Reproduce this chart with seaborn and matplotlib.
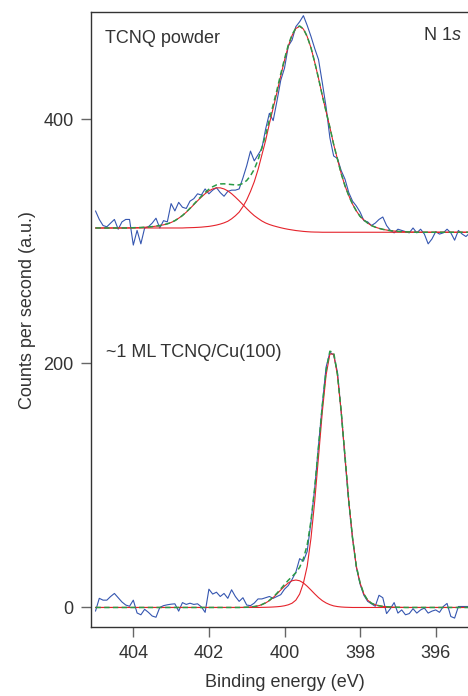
import numpy as np
import matplotlib
matplotlib.use("Agg")
import matplotlib.pyplot as plt
import seaborn as sns

# =====================================================
# DATA  (binding energy grid, 0.1 eV steps, 405.0 -> 395.1 eV)
# =====================================================
energy = np.round(np.linspace(405.0, 395.1, 100), 1)

# ---- TCNQ powder (upper spectrum) ----
powder_counts = [
    325, 318, 313, 312, 315, 318, 310, 316, 318, 318,
    297, 309, 298, 311, 312, 315, 319, 311, 317, 316,
    331, 325, 332, 328, 327, 333, 335, 339, 338, 343,
    339, 342, 344, 340, 337, 341, 342, 342, 343, 352,
    362, 374, 366, 371, 376, 392, 405, 399, 415, 432,
    442, 460, 465, 476, 480, 485, 477, 468, 458, 449,
    430, 410, 385, 370, 368, 358, 351, 340, 333, 329,
    324, 317, 316, 313, 315, 318, 320, 313, 309, 307,
    310, 309, 308, 307, 311, 307, 310, 306, 298, 302,
    308, 306, 307, 310, 307, 301, 309, 306, 304, 307,
]

powder_background = [
    311, 311, 311, 311, 311, 311, 311, 311, 311, 311,
    311, 311, 311, 311, 311, 311, 311, 311, 311, 311,
    311, 311, 311, 311, 311, 311, 311, 311, 311, 311,
    311, 311, 311, 311, 311, 311, 311, 311, 311, 311,
    311.0, 310.95, 310.9, 310.85, 310.75, 310.6, 310.45, 310.25, 310.0, 309.7,
    309.4, 309.1, 308.8, 308.5, 308.25, 308.0, 307.85, 307.75, 307.65, 307.6,
    307.5, 307.5, 307.5, 307.5, 307.5, 307.5, 307.5, 307.5, 307.5, 307.5,
    307.5, 307.5, 307.5, 307.5, 307.5, 307.5, 307.5, 307.5, 307.5, 307.5,
    307.5, 307.5, 307.5, 307.5, 307.5, 307.5, 307.5, 307.5, 307.5, 307.5,
    307.5, 307.5, 307.5, 307.5, 307.5, 307.5, 307.5, 307.5, 307.5, 307.5,
]

# main component (~399.6 eV), height above background
powder_main = [
    0, 0, 0, 0, 0, 0, 0, 0, 0, 0,
    0, 0, 0, 0, 0, 0, 0, 0, 0, 0,
    0, 0, 0, 0, 0.15, 0.25, 0.35, 0.5, 0.7, 1.0,
    1.3, 1.8, 2.4, 3.2, 4.2, 5.5, 7.5, 10, 13, 17.5,
    23, 30, 38, 48, 60, 72, 86, 99, 112, 126,
    139, 151, 160, 166, 168, 166, 160, 151, 139, 126,
    112, 99, 86, 72, 60, 48, 38, 30, 23, 17.5,
    13, 10, 7.5, 5.5, 4.2, 3.2, 2.4, 1.8, 1.3, 1.0,
    0.7, 0.5, 0.35, 0.25, 0.15, 0, 0, 0, 0, 0,
    0, 0, 0, 0, 0, 0, 0, 0, 0, 0,
]

# satellite component (~401.75 eV), height above background
powder_side = [
    0, 0, 0, 0, 0, 0, 0, 0, 0, 0.1,
    0.2, 0.3, 0.4, 0.6, 0.8, 1.1, 1.5, 2.0, 2.6, 3.4,
    4.5, 6.0, 8.0, 10.2, 12.9, 15.9, 19.1, 22.3, 25.3, 28.1,
    30.4, 32.0, 32.9, 32.9, 32.0, 30.4, 28.1, 25.3, 22.3, 19.1,
    15.9, 12.9, 10.2, 8.0, 6.0, 4.5, 3.4, 2.6, 2.0, 1.5,
    1.1, 0.8, 0.6, 0.4, 0.3, 0.2, 0.1, 0, 0, 0,
    0, 0, 0, 0, 0, 0, 0, 0, 0, 0,
    0, 0, 0, 0, 0, 0, 0, 0, 0, 0,
    0, 0, 0, 0, 0, 0, 0, 0, 0, 0,
    0, 0, 0, 0, 0, 0, 0, 0, 0, 0,
]

# ---- ~1 ML TCNQ/Cu(100) (lower spectrum) ----
monolayer_counts = [
    -3, 7.5, 6, 6, 9, 11.5, 8, 4.5, 2, 1,
    6, -4.5, -6, -1.5, -4, -7, -8, 0, 1.5, 2.2,
    2.7, 3, -3, 4, 2.5, 3.5, 2.5, 3, 0.5, -4,
    15, 11, 12.5, 9, 11.5, 7.5, 14.5, 9, 5, 8,
    2, 1.5, 3.6, 7, 7, 8, 9, 7.5, 9, 10.5,
    15, 18, 23, 29, 40, 38, 46, 70, 98, 133,
    166, 197, 209, 207, 193, 160, 122, 86, 57, 33,
    19, 10, 5, 3, 1, 10, 8, -5, -1, 4,
    -4.6, -2, -6, -5, -1, -4.6, -2, -0.5, -4.6, -3,
    -2, -4, 0.8, 3.3, -7.4, -8.7, 0.8, 0.8, 0.8, 0.8,
]

monolayer_background = 0.0

# main component (~398.75 eV)
monolayer_main = [
    0, 0, 0, 0, 0, 0, 0, 0, 0, 0,
    0, 0, 0, 0, 0, 0, 0, 0, 0, 0,
    0, 0, 0, 0, 0, 0, 0, 0, 0, 0,
    0, 0, 0, 0, 0, 0, 0, 0, 0, 0,
    0, 0, 0, 0, 0.1, 0.15, 0.25, 0.4, 0.6, 0.9,
    1.4, 2.2, 3.5, 6, 11, 20, 33.8, 56.7, 87.4, 123.7,
    160.2, 190.5, 207.7, 207.7, 190.5, 160.2, 123.7, 87.4, 56.7, 33.8,
    20, 11, 6, 3.5, 2.2, 1.4, 0.9, 0.6, 0.4, 0.25,
    0.15, 0.1, 0, 0, 0, 0, 0, 0, 0, 0,
    0, 0, 0, 0, 0, 0, 0, 0, 0, 0,
]

# shoulder component (~399.7 eV)
monolayer_side = [
    0, 0, 0, 0, 0, 0, 0, 0, 0, 0,
    0, 0, 0, 0, 0, 0, 0, 0, 0, 0,
    0, 0, 0, 0, 0, 0, 0, 0, 0, 0,
    0, 0, 0, 0, 0, 0, 0, 0, 0, 0.1,
    0.2, 0.4, 0.75, 1.3, 2.3, 3.7, 5.6, 8.1, 11.1, 14.3,
    17.4, 20.1, 21.9, 22.5, 21.9, 20.1, 17.4, 14.3, 11.1, 8.1,
    5.6, 3.7, 2.3, 1.3, 0.75, 0.4, 0.2, 0.1, 0, 0,
    0, 0, 0, 0, 0, 0, 0, 0, 0, 0,
    0, 0, 0, 0, 0, 0, 0, 0, 0, 0,
    0, 0, 0, 0, 0, 0, 0, 0, 0, 0,
]

x_ticks = [404, 402, 400, 398, 396]
y_ticks = [0, 200, 400]

# =====================================================
# STYLE
# =====================================================
sns.set_style("ticks")
plt.rcParams["font.family"] = ["Liberation Sans", "DejaVu Sans"]
plt.rcParams["mathtext.fontset"] = "custom"
plt.rcParams["mathtext.rm"] = "Liberation Sans"
plt.rcParams["mathtext.it"] = "Liberation Sans:italic"

text_color = "#333333"
blue = "#3556b0"
red = "#e5232b"
green = "#2a9a46"

# =====================================================
# PLOT
# =====================================================
fig = plt.figure(figsize=(4.68, 6.96), dpi=100)
ax = fig.add_axes([90.7 / 468, 1 - 627 / 696, (468 - 90.7) / 468, 615 / 696])

spectra = [
    (powder_counts, np.array(powder_background), powder_main, powder_side),
    (monolayer_counts, monolayer_background, monolayer_main, monolayer_side),
]

for counts, bg, main, side in spectra:
    main = np.array(main)
    side = np.array(side)

    sns.lineplot(x=energy, y=counts, color=blue, linewidth=0.8,
                 estimator=None, sort=False, ax=ax)
    sns.lineplot(x=energy, y=bg + main, color=red, linewidth=0.8,
                 estimator=None, sort=False, ax=ax)
    sns.lineplot(x=energy, y=bg + side, color=red, linewidth=0.8,
                 estimator=None, sort=False, ax=ax)
    sns.lineplot(x=energy, y=bg + main + side, color=green, linewidth=1.1,
                 linestyle=(0, (3.5, 2.2)), estimator=None, sort=False, ax=ax)

ax.set_xlim(405.127, 395.146)
ax.set_ylim(-16, 488)
ax.set_xticks(x_ticks)
ax.set_yticks(y_ticks)

for side_name in ["left", "bottom", "top"]:
    ax.spines[side_name].set_color("#333333")
    ax.spines[side_name].set_linewidth(1.0)
ax.spines["right"].set_visible(False)

ax.tick_params(axis="both", direction="out", length=7.2, width=1.0,
               color="#666666", labelcolor=text_color, labelsize=13)
ax.tick_params(axis="y", pad=5)
ax.tick_params(axis="x", pad=6)

ax.set_xlabel("Binding energy (eV)", fontsize=13, color=text_color)
ax.set_ylabel("Counts per second (a.u.)", fontsize=13, color=text_color)
ax.xaxis.set_label_coords(0.515, -0.077)
ax.yaxis.set_label_coords(-0.145, 0.515)

ax.text(0.038, 0.9496, "TCNQ powder", transform=ax.transAxes,
        fontsize=13, color=text_color, va="baseline", ha="left")
ax.text(0.983, 0.9545, r"N 1$\mathit{s}$", transform=ax.transAxes,
        fontsize=13, color=text_color, va="baseline", ha="right")
ax.text(0.0406, 0.439, "~1 ML TCNQ/Cu(100)", transform=ax.transAxes,
        fontsize=13, color=text_color, va="baseline", ha="left")

# SAVE
fig.savefig("out.png", dpi=100)
plt.close(fig)
